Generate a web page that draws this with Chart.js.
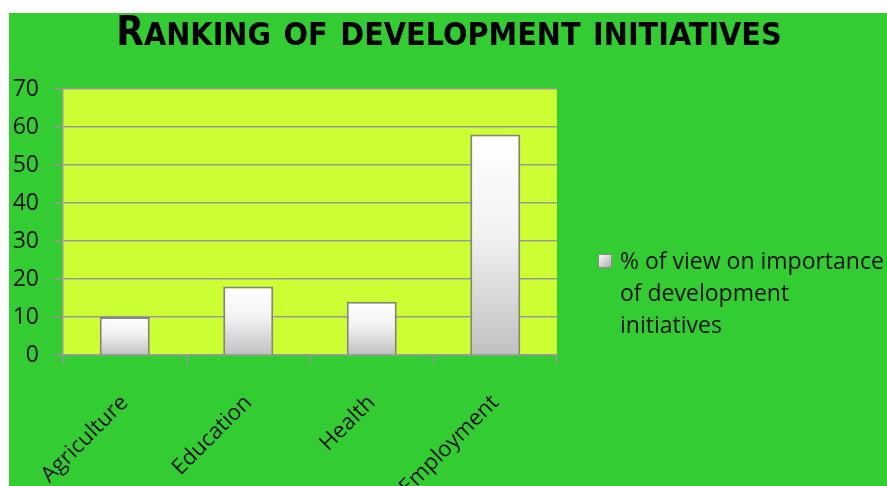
<!DOCTYPE html>
<html>
<head>
<meta charset="utf-8">
<script src="https://cdn.jsdelivr.net/npm/chart.js@4/dist/chart.umd.min.js"></script>
<style>
  html, body { margin: 0; padding: 0; background: #ffffff; width: 887px; height: 486px; overflow: hidden; }
  #wrap { position: absolute; left: 9px; top: 13px; width: 878px; height: 473px; background: #33CC33; }
  canvas { display: block; }
</style>
</head>
<body>
<div id="wrap"><canvas id="c" width="878" height="473"></canvas></div>
<script>
const chartTitle = 'Ranking of development initiatives';
const categories = ['Agriculture', 'Education', 'Health', 'Employment'];
const seriesLabel = ['% of view on importance', 'of development', 'initiatives'];
const seriesValues = [10, 18, 14, 58];
const yTicks = [0, 10, 20, 30, 40, 50, 60, 70];

const FONT = "'Open Sans', 'DejaVu Sans', sans-serif";
const TITLE_FONT = "'Liberation Sans Narrow', 'DejaVu Sans Condensed', sans-serif";

const plotBg = {
  id: 'plotBg',
  beforeDraw(chart) {
    const { ctx, chartArea: a } = chart;
    ctx.save();
    ctx.fillStyle = '#CCFF33';
    ctx.fillRect(a.left, a.top, a.right - a.left, a.bottom - a.top);
    ctx.restore();
  }
};

// Title drawn as real text in small caps (first letter of the title large, the rest small caps)
const smallCapsTitle = {
  id: 'smallCapsTitle',
  afterDraw(chart) {
    const { ctx } = chart;
    ctx.save();
    const big = 'bold 40px ' + TITLE_FONT;
    const small = 'bold 32px ' + TITLE_FONT;
    const segs = [];
    const txt = chartTitle;
    for (let i = 0; i < txt.length; i++) {
      const ch = txt[i];
      const isBig = (i === 0) || ch === ' ';
      segs.push({ t: ch.toUpperCase(), f: (ch !== ch.toLowerCase() || i === 0) ? big : (ch === ' ' ? big : small) });
    }
    // merge runs
    const runs = [];
    segs.forEach(s => {
      if (runs.length && runs[runs.length - 1].f === s.f) runs[runs.length - 1].t += s.t;
      else runs.push({ t: s.t, f: s.f });
    });
    let total = 0;
    runs.forEach(r => { ctx.font = r.f; r.w = ctx.measureText(r.t).width; total += r.w; });
    let x = 440 - total / 2;
    ctx.fillStyle = '#000000';
    ctx.textAlign = 'left';
    ctx.textBaseline = 'alphabetic';
    runs.forEach(r => { ctx.font = r.f; ctx.fillText(r.t, x, 32); x += r.w; });
    ctx.restore();
  }
};

const sideLegend = {
  id: 'sideLegend',
  afterDraw(chart) {
    const { ctx } = chart;
    ctx.save();
    const bx = 589, by = 241, bs = 14;
    const g = ctx.createLinearGradient(bx, by, bx + bs, by + bs);
    g.addColorStop(0, '#ffffff');
    g.addColorStop(1, '#a8a8a8');
    ctx.fillStyle = g;
    ctx.fillRect(bx, by, bs, bs);
    ctx.strokeStyle = '#8c8c8c';
    ctx.lineWidth = 1;
    ctx.strokeRect(bx + 0.5, by + 0.5, bs - 1, bs - 1);
    ctx.fillStyle = '#111111';
    ctx.font = '23px ' + FONT;
    ctx.textAlign = 'left';
    ctx.textBaseline = 'middle';
    seriesLabel.forEach((line, i) => {
      ctx.fillText(line, 611, 249 + i * 32);
    });
    ctx.restore();
  }
};

function barFill(context) {
  const chart = context.chart;
  const ys = chart.scales.y;
  if (!ys || !chart.chartArea) return '#ffffff';
  const v = context.raw;
  const top = ys.getPixelForValue(v);
  const base = ys.getPixelForValue(0);
  const g = chart.ctx.createLinearGradient(0, top, 0, base);
  g.addColorStop(0, '#ffffff');
  g.addColorStop(0.45, '#f2f2f2');
  g.addColorStop(1, '#c0c0c0');
  return g;
}

new Chart(document.getElementById('c'), {
  type: 'bar',
  data: {
    labels: categories,
    datasets: [{
      label: seriesLabel.join(' '),
      data: seriesValues,
      backgroundColor: barFill,
      borderColor: '#858585',
      borderWidth: 2,
      barPercentage: 0.405,
      categoryPercentage: 1.0
    }]
  },
  options: {
    responsive: false,
    devicePixelRatio: 1,
    animation: false,
    layout: { padding: { left: 0, right: 330, top: 76, bottom: 0 } },
    plugins: {
      legend: { display: false },
      tooltip: { enabled: false },
      title: { display: false }
    },
    scales: {
      x: {
        grid: { display: true, drawOnChartArea: false, drawTicks: true, tickLength: 9, color: '#999999', lineWidth: 1.5, offset: true },
        border: { display: true, color: '#999999', width: 1.5 },
        ticks: { maxRotation: 45, minRotation: 45, color: '#111111', font: { family: FONT, size: 22 }, padding: 26 },
        afterFit(scale) { scale.height = 131; }
      },
      y: {
        min: 0,
        max: 70,
        afterBuildTicks(scale) { scale.ticks = yTicks.map(v => ({ value: v })); },
        grid: { color: '#999999', lineWidth: 1.5, tickLength: 9, drawTicks: true },
        border: { display: true, color: '#999999', width: 1.5 },
        ticks: { color: '#111111', font: { family: FONT, size: 23 }, padding: 15 },
        afterFit(scale) { scale.width = 54; }
      }
    }
  },
  plugins: [plotBg, smallCapsTitle, sideLegend]
});
</script>
</body>
</html>
